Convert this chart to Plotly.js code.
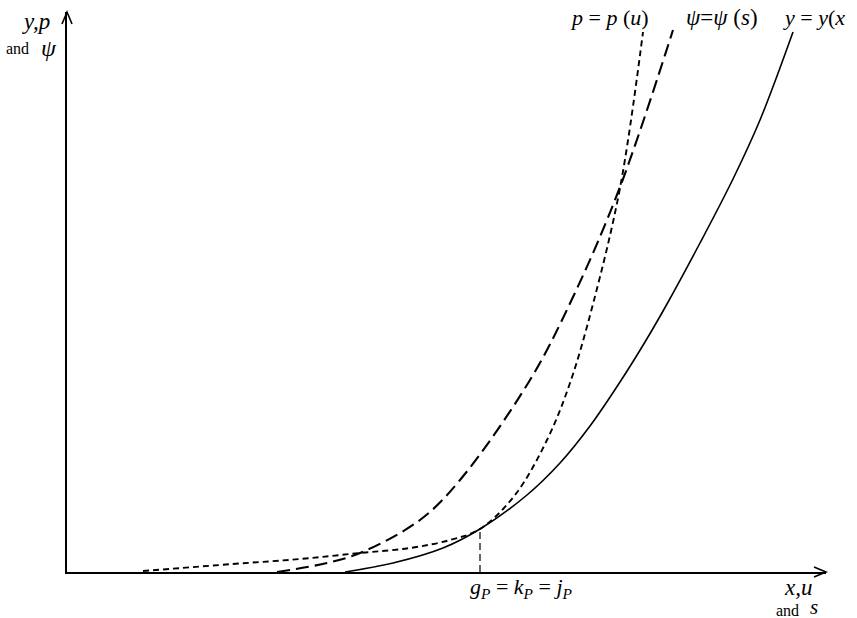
<!DOCTYPE html>
<html><head><meta charset="utf-8">
<script src="https://cdn.plot.ly/plotly-3.0.1.min.js"></script>
<style>html,body{margin:0;padding:0;background:#fff}</style>
</head><body>
<div id="chart" style="width:857px;height:618px"></div>
<script>
// y = y(x)  (solid)
const yX = [278, 326, 376, 413, 460, 493, 523, 553, 578, 600, 633, 666, 693, 726];
const yY = [0, 9, 24, 43, 77, 109, 146, 190, 230, 268, 329, 393, 452, 540];
// psi = psi(s)  (long dashes)
const psiX = [210, 260, 293, 353, 393, 463, 506, 553, 606];
const psiY = [0, 9, 19, 52, 92, 192, 275, 385, 542];
// p = p(u)  (short dashes)
const pX = [76, 166, 233, 293, 343, 383, 413, 448, 480, 503, 526, 553, 576];
const pY = [1, 8, 13, 19, 24, 32, 43, 77, 132, 189, 268, 384, 540];
// common point g_P = k_P = j_P
const tanX = [413, 413];
const tanY = [0, 43];

const serif = 'Liberation Serif, Times New Roman, serif';
const traces = [
  {x: yX, y: yY, mode: 'lines', line: {color: '#000', width: 1.6, shape: 'spline', smoothing: 1}, hoverinfo: 'skip'},
  {x: psiX, y: psiY, mode: 'lines', line: {color: '#000', width: 2.1, dash: '13px,6px', shape: 'spline', smoothing: 1}, hoverinfo: 'skip'},
  {x: pX, y: pY, mode: 'lines', line: {color: '#000', width: 1.9, dash: '6px,4px', shape: 'spline', smoothing: 1}, hoverinfo: 'skip'},
  {x: tanX, y: tanY, mode: 'lines', line: {color: '#000', width: 1.2, dash: '7px,4px'}, hoverinfo: 'skip'}
];

// plot area: px 67..826 horizontally, 12..572 vertically
const W = 759, H = 560;
function px(x) { return (x - 67) / W; }
function py(y) { return (572 - y) / H; }
function lab(x, y, text, size, xa) {
  return {xref: 'paper', yref: 'paper', x: px(x), y: py(y), text: text, showarrow: false,
          xanchor: xa || 'center', yanchor: 'middle', font: {family: serif, size: size, color: '#000'}};
}

const annotations = [
  lab(36, 21, '<i>y,p</i>', 23),
  lab(18, 49, 'and', 16),
  lab(49, 48, '<i>ψ</i>', 24),
  lab(609, 18, '<i>p</i> = <i>p</i> (<i>u</i>)', 22),
  lab(722, 18, '<i>ψ</i>=<i>ψ</i> (<i>s</i>)', 23),
  lab(814, 18, '<i>y</i> = <i>y</i>(<i>x</i>', 22),
  lab(521, 588, '<i>g<sub>P</sub></i> = <i>k<sub>P</sub></i> = <i>j<sub>P</sub></i>', 22),
  lab(798, 587, '<i>x,u</i>', 23),
  lab(787, 610, 'and', 16),
  lab(814, 607, '<i>s</i>', 21)
];

// open arrowheads at the ends of both axes (paper units)
const ax = 12 / W, ay = 5 / H, bx = 5 / W, by = 12 / H;
const shapes = [
  {type: 'path', xref: 'paper', yref: 'paper',
   path: `M ${1 - ax},${ay} L 1,0 L ${1 - ax},${-ay}`, line: {color: '#000', width: 1.6}},
  {type: 'path', xref: 'paper', yref: 'paper',
   path: `M ${-bx},${1 - by} L 0,1 L ${bx},${1 - by}`, line: {color: '#000', width: 1.6}}
];

const layout = {
  width: 857, height: 618,
  margin: {l: 67, r: 31, t: 12, b: 46},
  paper_bgcolor: '#fff', plot_bgcolor: '#fff',
  showlegend: false,
  xaxis: {range: [0, W], showgrid: false, zeroline: false, showticklabels: false, ticks: '',
          showline: true, linecolor: '#000', linewidth: 1.6, fixedrange: true},
  yaxis: {range: [0, H], showgrid: false, zeroline: false, showticklabels: false, ticks: '',
          showline: true, linecolor: '#000', linewidth: 1.6, fixedrange: true},
  annotations: annotations,
  shapes: shapes
};

Plotly.newPlot('chart', traces, layout, {displayModeBar: false, staticPlot: true});
</script>
</body></html>
